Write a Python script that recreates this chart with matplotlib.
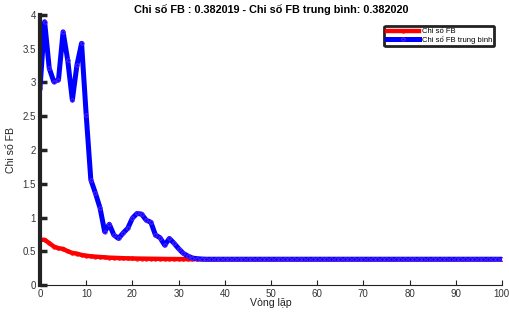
import numpy as np
import matplotlib.pyplot as plt

plt.rcParams['font.family'] = ['Liberation Sans', 'DejaVu Sans']

# values
iterations = list(range(101))
fb_head = [0.67, 0.67, 0.62, 0.57, 0.545, 0.535, 0.50, 0.475, 0.465, 0.445,
           0.435, 0.425, 0.42, 0.415, 0.41, 0.405, 0.403, 0.40, 0.397, 0.395,
           0.393, 0.392, 0.391, 0.390, 0.389, 0.388, 0.387, 0.386, 0.385, 0.385,
           0.384, 0.384, 0.383, 0.383, 0.383, 0.382]
fb_mean_head = [2.92, 3.90, 3.21, 3.01, 3.04, 3.75, 3.33, 2.74, 3.26, 3.58,
                2.52, 1.56, 1.36, 1.14, 0.79, 0.90, 0.74, 0.69, 0.77, 0.84,
                0.99, 1.06, 1.05, 0.96, 0.93, 0.74, 0.70, 0.59, 0.69, 0.62,
                0.54, 0.47, 0.43, 0.40, 0.39, 0.385]
fb = fb_head + [0.382] * (101 - len(fb_head))
fb_mean = fb_mean_head + [0.382] * (101 - len(fb_mean_head))

fb_final, fb_mean_final = 0.382019, 0.382020

fig = plt.figure(figsize=(5.09, 3.12), dpi=100)
ax = fig.add_axes([0.0786, 0.0865, 0.9074, 0.8655])

ax.plot(iterations, fb, color='#ff0000', lw=3.2, marker='o', ms=2.5,
        mfc='none', mec='#ff0000', mew=0.6, label='Chi số FB')
ax.plot(iterations, fb_mean, color='#0000ff', lw=3.6, marker='o', ms=2.5,
        mfc='none', mec='#6a2cff', mew=0.6, label='Chi số FB trung bình')

ax.set_xlim(0, 100)
ax.set_ylim(0, 4)
ax.set_xticks(range(0, 101, 10))
ax.set_yticks([0, 0.5, 1, 1.5, 2, 2.5, 3, 3.5, 4])
ax.set_yticklabels(['0', '0.5', '1', '1.5', '2', '2.5', '3', '3.5', '4'])

for s in ['top', 'right']:
    ax.spines[s].set_visible(False)
ax.spines['left'].set_linewidth(3.0)
ax.spines['left'].set_color('#222222')
ax.spines['bottom'].set_linewidth(0.8)
ax.spines['bottom'].set_color('#222222')
ax.tick_params(axis='y', direction='in', length=5, width=2.5, color='#222222',
               labelsize=7, labelcolor='#333333', pad=3)
ax.tick_params(axis='x', direction='in', length=3.5, width=0.8, color='#222222',
               labelsize=7, labelcolor='#333333', pad=3)

ax.set_title(f'Chi số FB : {fb_final:.6f} - Chi số FB trung bình: {fb_mean_final:.6f}',
             fontsize=7.8, fontweight='bold', pad=1)
ax.set_xlabel('Vòng lặp', fontsize=7.6, labelpad=-1, color='#222222')
ax.set_ylabel('Chi số FB', fontsize=7.6, labelpad=5, color='#222222')

leg = ax.legend(loc='upper right', bbox_to_anchor=(0.992, 0.975), fontsize=5.5,
                handlelength=4.2, handletextpad=0.4, borderpad=0.3,
                labelspacing=0.1, fancybox=True, framealpha=1)
leg.get_frame().set_edgecolor('#222222')
leg.get_frame().set_linewidth(2.0)

fig.savefig('out.png', dpi=100)
